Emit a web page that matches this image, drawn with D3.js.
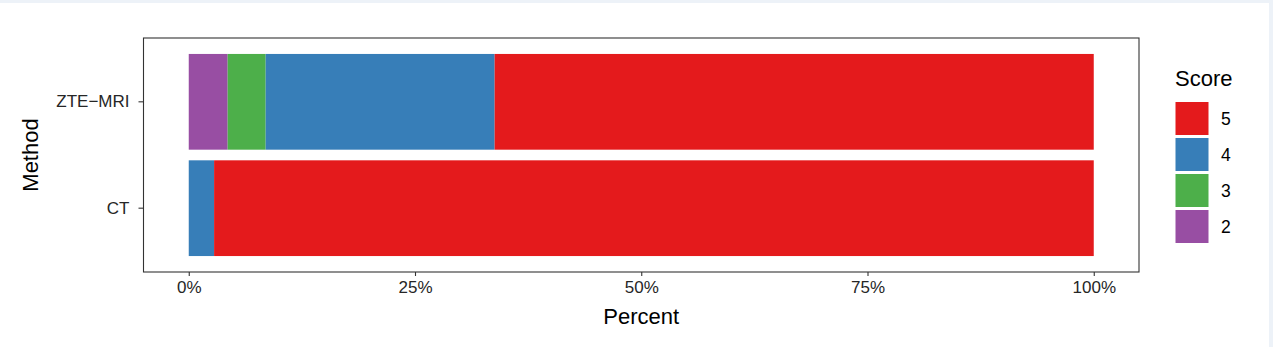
<!DOCTYPE html>
<html>
<head>
<meta charset="utf-8">
<script src="https://cdn.jsdelivr.net/npm/d3@7"></script>
<style>
  html, body { margin: 0; padding: 0; background: #edf2f8; }
  #chart { position: absolute; left: 0; top: 3px; width: 1269px; height: 344px; background: #fff; }
  text { font-family: "Liberation Sans", Arial, sans-serif; }
</style>
</head>
<body>
<div id="chart"></div>
<script>
const methods = ["ZTE\u2212MRI", "CT"];
const scores = ["2", "3", "4", "5"];
const legendOrder = ["5", "4", "3", "2"];
const colors = ["#984ea3", "#4daf4a", "#377eb8", "#e41a1c"];
// percent share of each score per method
const zteValues = [4.3, 4.2, 25.3, 66.2];
const ctValues = [0, 0, 2.8, 97.2];
const xTicks = [0, 0.25, 0.5, 0.75, 1];

const drawChart = () => {
  const fullWidth = 1269;
  const fullHeight = 344;
  const panel = { left: 143.5, right: 1139, top: 35, bottom: 269 };

  const svg = d3
    .select("#chart")
    .append("svg")
    .attr("width", fullWidth)
    .attr("height", fullHeight);

  const rows = methods.map((m, i) => {
    const vals = i === 0 ? zteValues : ctValues;
    const row = { method: m };
    scores.forEach((s, j) => (row[s] = vals[j] / 100));
    return row;
  });

  const stacked = d3.stack().keys(scores)(rows);

  const xScale = d3
    .scaleLinear()
    .domain([-0.05, 1.05])
    .range([panel.left, panel.right]);

  // ggplot: bar width 0.9, discrete expansion 0.6
  const yScale = d3
    .scaleBand()
    .domain(methods)
    .range([panel.top, panel.bottom])
    .paddingInner(0.1)
    .paddingOuter(0.15);

  const color = d3.scaleOrdinal().domain(scores).range(colors);

  svg
    .append("g")
    .selectAll("g")
    .data(stacked)
    .join("g")
    .attr("fill", d => color(d.key))
    .selectAll("rect")
    .data(d => d)
    .join("rect")
    .attr("x", d => xScale(d[0]))
    .attr("width", d => xScale(d[1]) - xScale(d[0]))
    .attr("y", d => yScale(d.data.method))
    .attr("height", yScale.bandwidth());

  svg
    .append("rect")
    .attr("x", panel.left)
    .attr("y", panel.top)
    .attr("width", panel.right - panel.left)
    .attr("height", panel.bottom - panel.top)
    .attr("fill", "none")
    .attr("stroke", "#333")
    .attr("stroke-width", 1.1);

  const xAxis = d3
    .axisBottom(xScale)
    .tickValues(xTicks)
    .tickFormat(d3.format(".0%"))
    .tickSize(4)
    .tickPadding(5);
  const gx = svg
    .append("g")
    .attr("transform", `translate(0, ${panel.bottom})`)
    .call(xAxis);
  gx.select(".domain").remove();
  gx.selectAll("line").attr("stroke", "#333").attr("stroke-width", 1.1);
  gx.selectAll("text").attr("fill", "#262626").style("font-size", "17px");

  const yAxis = d3.axisLeft(yScale).tickSize(5).tickPadding(9);
  const gy = svg
    .append("g")
    .attr("transform", `translate(${panel.left}, 0)`)
    .call(yAxis);
  gy.select(".domain").remove();
  gy.selectAll("line").attr("stroke", "#333").attr("stroke-width", 1.1);
  gy.selectAll("text").attr("fill", "#262626").style("font-size", "17px");

  svg
    .append("text")
    .attr("x", (panel.left + panel.right) / 2)
    .attr("y", 321)
    .attr("text-anchor", "middle")
    .style("font-size", "22px")
    .text("Percent");

  svg
    .append("text")
    .attr("transform", `translate(38, ${(panel.top + panel.bottom) / 2}) rotate(-90)`)
    .attr("text-anchor", "middle")
    .style("font-size", "22px")
    .text("Method");

  // legend
  const legend = svg.append("g").attr("transform", "translate(1175, 0)");
  legend
    .append("text")
    .attr("x", 0)
    .attr("y", 83)
    .style("font-size", "22px")
    .text("Score");

  const keys = legend
    .selectAll("g.key")
    .data(legendOrder)
    .join("g")
    .attr("class", "key")
    .attr("transform", (d, i) => `translate(0, ${97.5 + i * 36})`);

  keys
    .append("rect")
    .attr("x", 0.5)
    .attr("y", 1.5)
    .attr("width", 33)
    .attr("height", 33)
    .attr("fill", d => color(d));

  keys
    .append("text")
    .attr("x", 46)
    .attr("y", 18)
    .attr("dy", "0.35em")
    .style("font-size", "17.5px")
    .text(d => d);
};

drawChart();
</script>
</body>
</html>
